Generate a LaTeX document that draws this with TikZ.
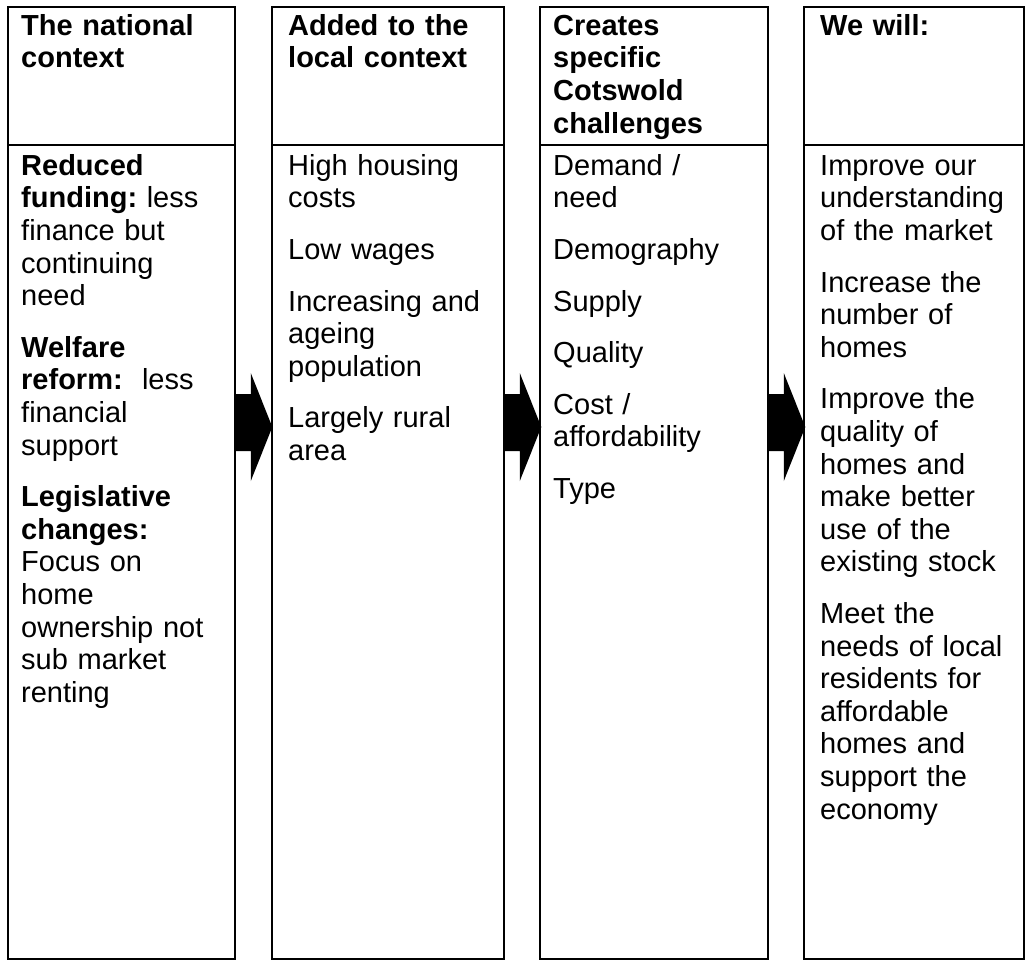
\documentclass[tikz,border=0pt]{standalone}
\usepackage{fontspec}
\setmainfont{Liberation Sans}
\newcommand{\fstrut}{\rule{0pt}{25pt}}
\newcommand{\pgap}{\\[19pt]}
\begin{document}
\frenchspacing
\begin{tikzpicture}[x=1pt,y=-1pt,
  box/.style={draw,line width=1.8pt,inner sep=0pt,anchor=north west},
  txt/.style={anchor=north west,inner sep=0pt,align=left,text width=#1,
    font=\fontsize{29}{32.6}\selectfont\frenchspacing},
  head/.style={txt=#1,font=\fontsize{29}{32.8}\selectfont\bfseries\frenchspacing},
  barrow/.pic={\fill (0,250) -- (15,250) -- (15,229) -- (36.5,283) -- (15,337) -- (15,307) -- (0,307) -- cycle;}
]
\useasboundingbox (0,0) rectangle (1026,961);
% boxes
\node[box,minimum width=227pt,minimum height=138pt] (h1) at (7,6) {};
\node[box,minimum width=227pt,minimum height=814pt] (b1) at (7,144) {};
\node[box,minimum width=232pt,minimum height=138pt] (h2) at (271,6) {};
\node[box,minimum width=232pt,minimum height=814pt] (b2) at (271,144) {};
\node[box,minimum width=228pt,minimum height=138pt] (h3) at (539,6) {};
\node[box,minimum width=228pt,minimum height=814pt] (b3) at (539,144) {};
\node[box,minimum width=220pt,minimum height=138pt] (h4) at (803,6) {};
\node[box,minimum width=220pt,minimum height=814pt] (b4) at (803,144) {};
% arrows
\pic at (b1.north east) {barrow};
\pic at (b2.north east) {barrow};
\pic at (b3.north east) {barrow};
% headers
\node[head=210pt] (t1h) at (21,10) {\fstrut The national\\context};
\node[head=210pt] (t2h) at (288,10) {\fstrut Added to the\\local context};
\node[head=210pt] (t3h) at (553,10) {\fstrut Creates\\specific\\Cotswold\\challenges};
\node[head=200pt] (t4h) at (820,10) {\fstrut We will:};
% bodies
\node[txt=210pt] (t1b) at (21,150) {\fstrut\textbf{Reduced}\\\textbf{funding:} less\\finance but\\continuing\\need\pgap
\textbf{Welfare}\\\textbf{reform:}\ \ less\\financial\\support\pgap
\textbf{Legislative}\\\textbf{changes:}\\Focus on\\home\\ownership not\\sub market\\renting};
\node[txt=210pt] (t2b) at (288,150) {\fstrut High housing\\costs\pgap Low wages\pgap Increasing and\\ageing\\population\pgap Largely rural\\area};
\node[txt=210pt] (t3b) at (553,150) {\fstrut Demand /\\need\pgap Demography\pgap Supply\pgap Quality\pgap Cost /\\affordability\pgap Type};
\node[txt=200pt] (t4b) at (820,150) {\fstrut Improve our\\understanding\\of the market\pgap Increase the\\number of\\homes\pgap Improve the\\quality of\\homes and\\make better\\use of the\\existing stock\pgap Meet the\\needs of local\\residents for\\affordable\\homes and\\support the\\economy};
\end{tikzpicture}
\end{document}
